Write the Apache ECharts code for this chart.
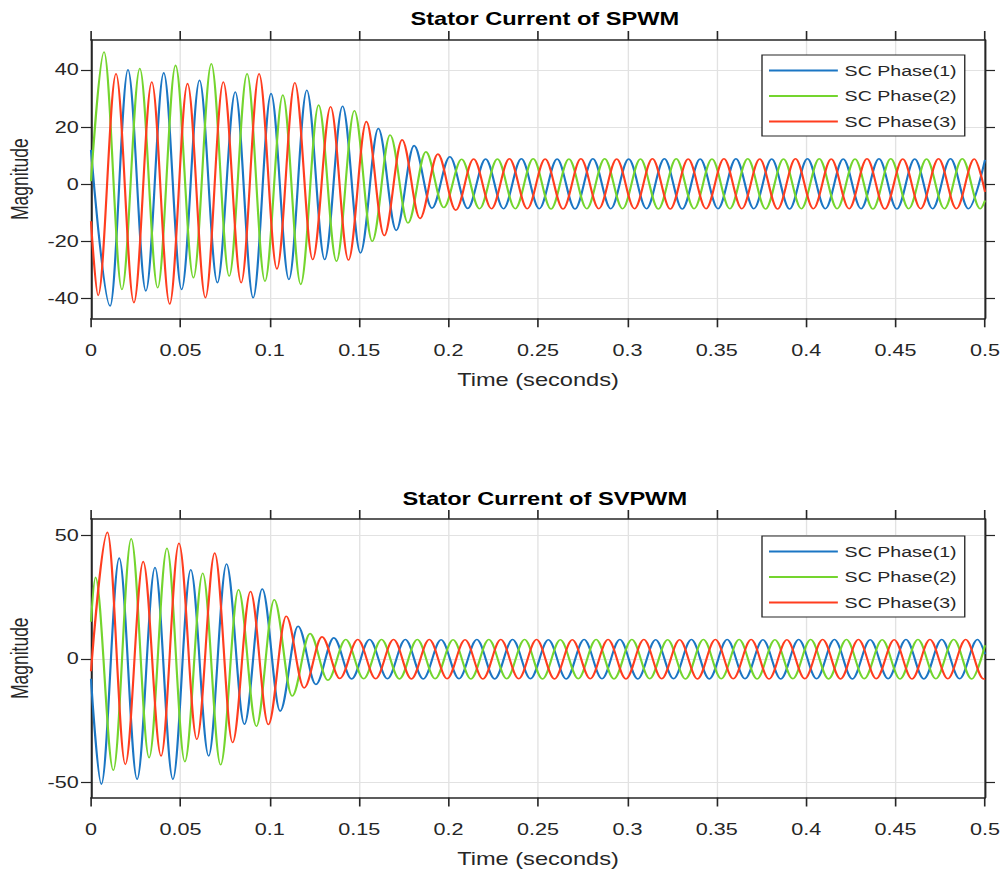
<!DOCTYPE html>
<html>
<head>
<meta charset="utf-8">
<script src="https://cdn.jsdelivr.net/npm/echarts@6.0.0/dist/echarts.min.js"></script>
<style>
html,body{margin:0;padding:0;background:#fff;overflow:hidden;}
#wrap{width:1007px;height:871px;overflow:hidden;}
#chart{width:746px;height:871px;transform:scaleX(1.349866);transform-origin:0 0;}
</style>
</head>
<body>
<div id="wrap"><div id="chart"></div></div>
<script>
// ---------------- data ----------------
const seriesNames = ['SC Phase(1)', 'SC Phase(2)', 'SC Phase(3)'];
const titles = ['Stator Current of SPWM', 'Stator Current of SVPWM'];
const xTickLabels = [0, 0.05, 0.1, 0.15, 0.2, 0.25, 0.3, 0.35, 0.4, 0.45, 0.5];
const spwmYTicks = [-40, -20, 0, 20, 40];
const svpwmYTicks = [-50, 0, 50];

// 50 Hz currents: each array = [value at t=0, successive peaks/troughs (every 0.01 s), value at t=0.5]
const halfPeriod = 0.01;
const spwmFirstExtremum = [0.0107, 0.0073, 0.0040];
const svpwmFirstExtremum = [0.0058, 0.0025, 0.0092];

const spwmPhase1 = [12, -42.7, 40.1, -37.4, 39, -36.9, 36.4, -34.5, 32.3, -39.8, 31.7, -33.4, 32.9, -26.4, 27.3, -24.1, 19.5, -16.2, 13.5, -8.4, 9.6, -8.5,
  8.8, -8.6, 8.9, -8.6, 8.8, -8.7, 8.9, -8.6, 8.8, -8.6, 8.9, -8.7, 8.8, -8.6, 8.9, -8.6, 8.8, -8.7, 8.9, -8.6, 8.8, -8.6, 8.9, -8.7, 8.8, -8.6, 8.9, -8.6,
  8.5];
const spwmPhase2 = [1, 46.3, -36.9, 40.5, -36.3, 41.6, -32.8, 42.2, -32.2, 38.7, -34, 31.2, -35.1, 27.7, -27, 25.7, -20, 17.2, -13.6, 11.3, -8.2, 8.7,
  -8.6, 8.8, -8.6, 8.9, -8.7, 8.8, -8.6, 8.9, -8.6, 8.8, -8.7, 8.9, -8.6, 8.8, -8.6, 8.9, -8.7, 8.8, -8.6, 8.9, -8.6, 8.8, -8.7, 8.9, -8.6, 8.8, -8.6, 8.9, -8.6,
  -5.7];
const spwmPhase3 = [-13, -39, 38.7, -41.5, 35.8, -42, 35.2, -39.8, 35.8, -34.5, 38.7, -29.7, 35.5, -26.4, 27.1, -26.6, 21.9, -18, 15.5, -12, 10.5, -9.1,
  8.8, -8.6, 8.9, -8.6, 8.8, -8.7, 8.9, -8.6, 8.8, -8.6, 8.9, -8.7, 8.8, -8.6, 8.9, -8.6, 8.8, -8.7, 8.9, -8.6, 8.8, -8.6, 8.9, -8.7, 8.8, -8.6, 8.9, -8.6, 8.8,
  -2.7];

const svpwmPhase1 = [-8, -50.6, 40.7, -48.6, 36.9, -48.6, 36, -39.2, 38.3, -26.4, 28.2, -21.1, 13.2, -10.3, 8.5, -8.1,
  7.8, -8.0, 7.8, -8.1, 7.7, -8.0, 7.8, -8.1, 7.8, -8.0, 7.7, -8.1, 7.8, -8.0, 7.8, -8.1, 7.7, -8.0, 7.8, -8.1, 7.8, -8.0, 7.7, -8.1, 7.8, -8.0, 7.8, -8.1, 7.7, -8.0, 7.8, -8.1, 7.8, -8.0, 7.8,
  1.9];
const svpwmPhase2 = [15, 32.9, -45, 48.5, -39.9, 44.7, -41.5, 34.6, -42.8, 27.9, -27.2, 23.9, -15, 10.2, -8.6, 7.8,
  -8.0, 7.8, -8.1, 7.8, -8.0, 7.7, -8.1, 7.8, -8.0, 7.8, -8.1, 7.7, -8.0, 7.8, -8.1, 7.8, -8.0, 7.7, -8.1, 7.8, -8.0, 7.8, -8.1, 7.7, -8.0, 7.8, -8.1, 7.8, -8.0, 7.7, -8.1, 7.8, -8.0, 7.8, -8.1,
  5.5];
const svpwmPhase3 = [-5, 51.1, -42.6, 39.3, -39.2, 46.7, -32.5, 42.7, -33.8, 27.2, -26.5, 17.2, -11.7, 8.9, -7.9, 7.8,
  -8.0, 7.8, -8.1, 7.8, -8.0, 7.7, -8.1, 7.8, -8.0, 7.8, -8.1, 7.7, -8.0, 7.8, -8.1, 7.8, -8.0, 7.7, -8.1, 7.8, -8.0, 7.8, -8.1, 7.7, -8.0, 7.8, -8.1, 7.8, -8.0, 7.7, -8.1, 7.8, -8.0, 7.8, -8.1,
  -8.0];

// ---------------- chart ----------------
const colors = ['#1b76c4', '#74d52e', '#ff3d1f'];
const textColor = '#262626';
const font = 'Liberation Sans, Arial, Helvetica, sans-serif';

function toPoints(vals, firstT) {
  const pts = [[0, vals[0]]];
  for (let i = 1; i < vals.length - 1; i++) {
    pts.push([+(firstT + (i - 1) * halfPeriod).toFixed(5), vals[i]]);
  }
  pts.push([0.5, vals[vals.length - 1]]);
  return pts;
}

const gridLeft = 67.4, gridWidth = 662.3;
const grids = [
  { left: gridLeft, top: 40, width: gridWidth, height: 278.3, containLabel: false, outerBoundsMode: 'none' },
  { left: gridLeft, top: 519, width: gridWidth, height: 278.5, containLabel: false, outerBoundsMode: 'none' }
];

const axisLine = { show: true, onZero: false, lineStyle: { color: textColor, width: 1.5 } };
const splitLine = { show: true, lineStyle: { color: '#e2e2e2', width: 1 } };
const tickStyle = { color: textColor, width: 1.2 };

function xAxes(gi) {
  return [
    {
      type: 'value', gridIndex: gi, position: 'bottom', min: 0, max: 0.5, interval: 0.05,
      axisLine: axisLine,
      axisTick: { show: true, inside: false, length: 9, lineStyle: tickStyle },
      axisLabel: { show: true, margin: 24, fontSize: 16, color: textColor, fontFamily: font,
        customValues: xTickLabels },
      splitLine: splitLine,
      name: 'Time (seconds)', nameLocation: 'middle', nameGap: 52,
      nameTextStyle: { fontSize: 17.5, color: textColor, fontFamily: font }
    },
    {
      type: 'value', gridIndex: gi, position: 'top', min: 0, max: 0.5, interval: 0.05,
      axisLine: axisLine,
      axisTick: { show: true, inside: false, length: 9, lineStyle: tickStyle },
      axisLabel: { show: false },
      splitLine: { show: false }
    }
  ];
}

function yAxes(gi, min, max, step, ticks) {
  return [
    {
      type: 'value', gridIndex: gi, position: 'left', min: min, max: max,
      minInterval: step, maxInterval: step,
      axisLine: axisLine,
      axisTick: { show: true, inside: false, length: 7.4, customValues: ticks, lineStyle: tickStyle },
      axisLabel: { show: true, margin: 9, fontSize: 16, color: textColor, fontFamily: font, customValues: ticks },
      splitLine: splitLine,
      name: 'Magnitude', nameLocation: 'middle', nameGap: 44,
      nameTextStyle: { fontSize: 17.5, color: textColor, fontFamily: font }
    },
    {
      type: 'value', gridIndex: gi, position: 'right', min: min, max: max,
      minInterval: step, maxInterval: step,
      axisLine: axisLine,
      axisTick: { show: true, inside: false, length: 7.4, customValues: ticks, lineStyle: tickStyle },
      axisLabel: { show: false },
      splitLine: { show: false }
    }
  ];
}

const spwmData = [spwmPhase1, spwmPhase2, spwmPhase3];
const svpwmData = [svpwmPhase1, svpwmPhase2, svpwmPhase3];

const series = [];
spwmData.forEach((vals, k) => {
  series.push({
    name: seriesNames[k], type: 'line', xAxisIndex: 0, yAxisIndex: 0,
    data: toPoints(vals, spwmFirstExtremum[k]),
    showSymbol: false, symbol: 'none', smooth: 0.34, smoothMonotone: 'x',
    lineStyle: { color: colors[k], width: 1.6 }, itemStyle: { color: colors[k] },
    z: 2 + k, silent: true
  });
});
svpwmData.forEach((vals, k) => {
  series.push({
    name: seriesNames[k], type: 'line', xAxisIndex: 2, yAxisIndex: 2,
    data: toPoints(vals, svpwmFirstExtremum[k]),
    showSymbol: false, symbol: 'none', smooth: 0.34, smoothMonotone: 'x',
    lineStyle: { color: colors[k], width: 1.6 }, itemStyle: { color: colors[k] },
    z: 2 + k, silent: true
  });
});

function legend(top) {
  return {
    show: true, orient: 'vertical', left: 564.5, top: top,
    data: seriesNames, icon: 'rect', itemWidth: 51, itemHeight: 2, itemGap: 9.5,
    padding: [7.5, 6, 6.5, 5.2],
    backgroundColor: '#ffffff', borderColor: textColor, borderWidth: 1, borderRadius: 0,
    selectedMode: false,
    textStyle: { fontSize: 14.5, lineHeight: 16, color: textColor, fontFamily: font }
  };
}

const option = {
  animation: false,
  backgroundColor: '#ffffff',
  title: [
    { text: titles[0], left: 398.6, top: 5, textAlign: 'center',
      textStyle: { fontSize: 17.5, fontWeight: 'bold', color: '#000', fontFamily: font } },
    { text: titles[1], left: 398.6, top: 485, textAlign: 'center',
      textStyle: { fontSize: 17.5, fontWeight: 'bold', color: '#000', fontFamily: font } }
  ],
  legend: [legend(55), legend(536)],
  grid: grids,
  xAxis: [].concat(xAxes(0), xAxes(1)),
  yAxis: [].concat(yAxes(0, -47, 50.5, 20, spwmYTicks), yAxes(1, -56, 56.5, 50, svpwmYTicks)),
  series: series
};

const chart = echarts.init(document.getElementById('chart'), null, { renderer: 'svg' });
chart.setOption(option);
</script>
</body>
</html>
